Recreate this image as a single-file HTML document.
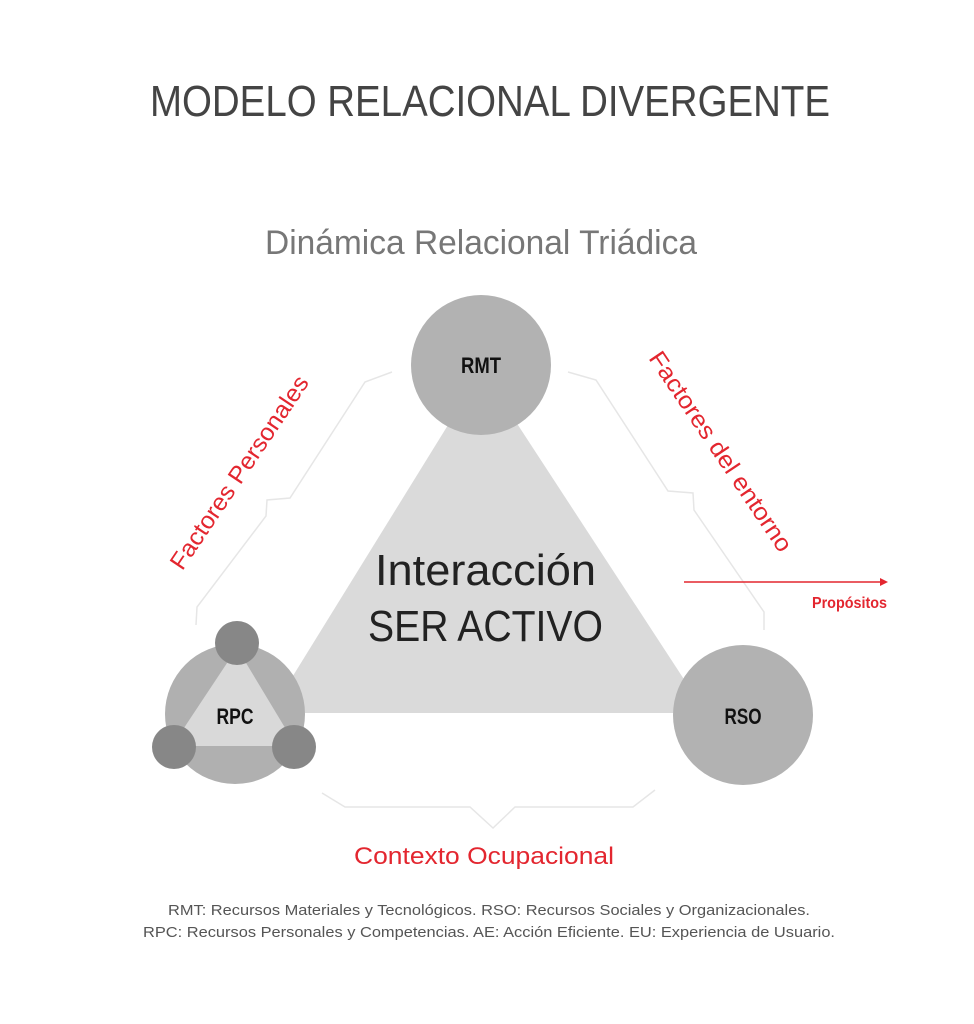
<!DOCTYPE html>
<html><head><meta charset="utf-8"><style>
html,body{margin:0;padding:0;background:#fff;}
svg{display:block;}
text{font-family:"Liberation Sans",sans-serif;}
</style></head><body>
<svg width="974" height="1024" viewBox="0 0 974 1024" xmlns="http://www.w3.org/2000/svg">
<rect width="974" height="1024" fill="#fff"/>
<text x="150" y="116" font-size="44" fill="#444" textLength="680" lengthAdjust="spacingAndGlyphs">MODELO RELACIONAL DIVERGENTE</text>
<text x="265" y="254" font-size="34" fill="#777" textLength="432" lengthAdjust="spacingAndGlyphs">Dinámica Relacional Triádica</text>
<g fill="none" stroke="#e6e6e6" stroke-width="1.5">
<polyline points="392,372 365,382 290,498 267,500 266,516 197,607 196,625"/>
<polyline points="568,372 596,380 668,491 693,493 694,510 764,612 764,630"/>
<polyline points="322,793 345,807 470,807 493,828 515,807 633,807 655,790"/>
</g>
<polygon points="482,370 270,713 706,713" fill="#dadada"/>
<circle cx="481" cy="365" r="70" fill="#b2b2b2"/>
<text x="481" y="373" font-size="22" font-weight="bold" fill="#111" text-anchor="middle" textLength="40" lengthAdjust="spacingAndGlyphs">RMT</text>
<circle cx="743" cy="715" r="70" fill="#b2b2b2"/>
<text x="743" y="724" font-size="22" font-weight="bold" fill="#111" text-anchor="middle" textLength="37" lengthAdjust="spacingAndGlyphs">RSO</text>
<circle cx="235" cy="714" r="70" fill="#b0b0b0"/>
<polygon points="237,648 172,746 296,746" fill="#d9d9d9"/>
<circle cx="237" cy="643" r="22" fill="#878787"/>
<circle cx="174" cy="747" r="22" fill="#878787"/>
<circle cx="294" cy="747" r="22" fill="#878787"/>
<text x="235" y="724" font-size="22" font-weight="bold" fill="#111" text-anchor="middle" textLength="37" lengthAdjust="spacingAndGlyphs">RPC</text>
<text x="375" y="585" font-size="44" fill="#222" textLength="221" lengthAdjust="spacingAndGlyphs">Interacción</text>
<text x="368" y="641" font-size="44" fill="#222" textLength="235" lengthAdjust="spacingAndGlyphs">SER ACTIVO</text>
<text transform="translate(246,477) rotate(-56)" font-size="24" fill="#e3262f" text-anchor="middle" textLength="228" lengthAdjust="spacingAndGlyphs">Factores Personales</text>
<text transform="translate(714,456) rotate(56)" font-size="24" fill="#e3262f" text-anchor="middle" textLength="236" lengthAdjust="spacingAndGlyphs">Factores del entorno</text>
<line x1="684" y1="582" x2="882" y2="582" stroke="#e3262f" stroke-width="1.5"/>
<polygon points="888,582 880,578 880,586" fill="#e3262f"/>
<text x="812" y="608" font-size="16" font-weight="bold" fill="#e3262f" textLength="75" lengthAdjust="spacingAndGlyphs">Propósitos</text>
<text x="354" y="864" font-size="24" fill="#e3262f" textLength="260" lengthAdjust="spacingAndGlyphs">Contexto Ocupacional</text>
<text x="168" y="915" font-size="15" fill="#555" textLength="642" lengthAdjust="spacingAndGlyphs">RMT: Recursos Materiales y Tecnológicos. RSO: Recursos Sociales y Organizacionales.</text>
<text x="143" y="937" font-size="15" fill="#555" textLength="692" lengthAdjust="spacingAndGlyphs">RPC: Recursos Personales y Competencias. AE: Acción Eficiente. EU: Experiencia de Usuario.</text>
</svg>
</body></html>
